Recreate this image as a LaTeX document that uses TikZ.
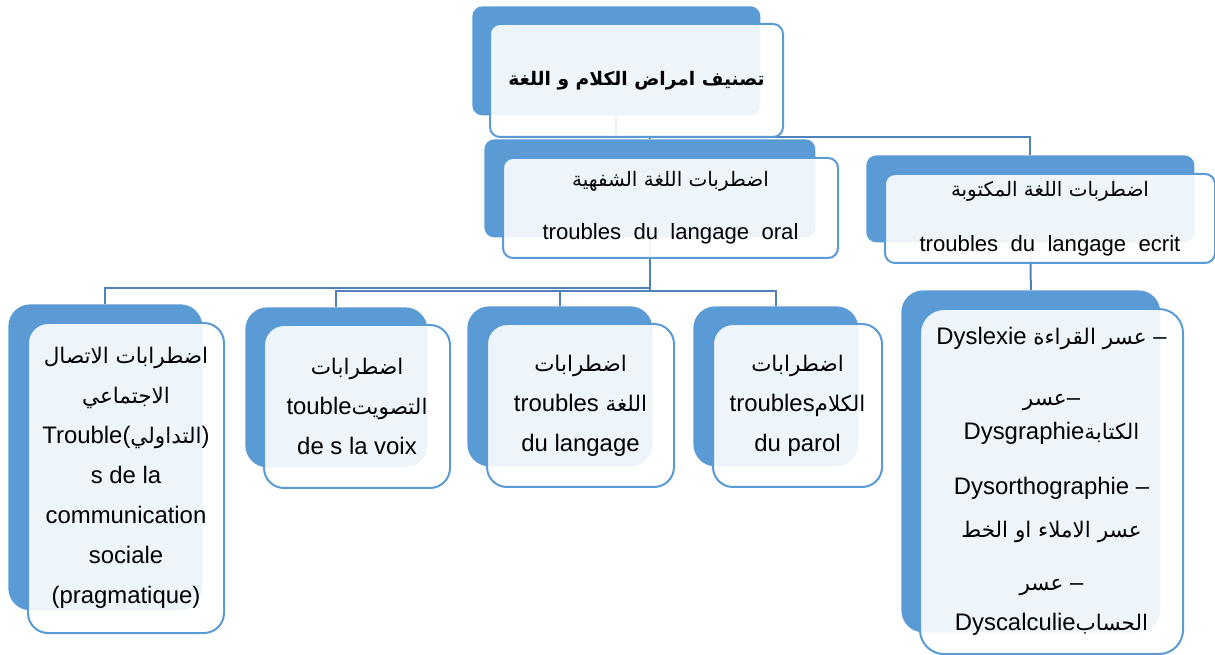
\documentclass[tikz,border=0pt]{standalone}
\usepackage{fontspec}
\setmainfont{Liberation Sans}
\newfontfamily\arabicfont[Script=Arabic,Scale=0.9]{DejaVu Sans}
\TeXXeTstate=1
\newcommand{\artxt}[1]{{\arabicfont\beginR #1\endR}}
\newlength{\px}
\setlength{\px}{0.02cm}
\definecolor{boxblue}{RGB}{91,155,213}
\definecolor{linkblue}{RGB}{79,129,189}

\tikzset{
  backbox/.style={fill=boxblue, rounded corners=10\px, anchor=north west, inner sep=0pt},
  frontbox/.style={draw=boxblue, line width=2\px, fill=white, fill opacity=0.9, text opacity=1,
    rounded corners=10\px, anchor=north west, inner sep=0pt, align=center,
    font=\fontsize{12.6}{20}\selectfont},
  leafback/.style={backbox, rounded corners=22\px},
  leafbox/.style={frontbox, rounded corners=20\px, font=\fontsize{13.6}{22.8}\selectfont},
  link/.style={draw=linkblue, line width=2\px},
}

\begin{document}
\begin{tikzpicture}[x=1\px, y=-1\px]
  \useasboundingbox (0,0) rectangle (1215,655);

  % back boxes
  \node[backbox, minimum width=288\px, minimum height=109\px] (rootback) at (472,6) {};
  \node[backbox, minimum width=331\px, minimum height=98\px] (oralback) at (484,139) {};
  \node[backbox, minimum width=328\px, minimum height=87\px] (writtenback) at (866,155) {};
  \node[leafback, minimum width=194\px, minimum height=306\px] (parolback1) at (8,304) {};
  \node[leafback, minimum width=182\px, minimum height=160\px] (parolback2) at (245,307) {};
  \node[leafback, minimum width=185\px, minimum height=160\px] (parolback3) at (467,306) {};
  \node[leafback, minimum width=165\px, minimum height=160\px] (parolback4) at (693,306) {};
  \node[leafback, minimum width=259\px, minimum height=342\px] (ecritback) at (901,290) {};

  % connectors
  \draw[link] (rootback.south) -- ++(0,21) -| (oralback.north);
  \draw[link] (rootback.south) -- ++(0,21) -| (writtenback.north);
  \draw[link] (oralback.south) -- ++(0,50) -| (parolback1.north);
  \foreach \k in {2,3,4}
    \draw[link] (oralback.south) -- ++(0,53) -| (parolback\k.north);
  \draw[link] (writtenback.south) -- (ecritback.north);

  % front boxes
  \node[frontbox, minimum width=293\px, minimum height=113\px, font=\fontsize{11.8}{20}\selectfont] (root) at (489,23)
    {\artxt{\bfseries تصنيف امراض الكلام و اللغة}};
  \node[frontbox, minimum width=335\px, minimum height=100\px] (oral) at (502,157)
    {\artxt{اضطربات اللغة الشفهية}\\[10pt] troubles\ \ du\ \ langage\ \ oral};
  \node[frontbox, minimum width=330\px, minimum height=89\px] (written) at (884,173)
    {\artxt{اضطربات اللغة المكتوبة}\\[11pt] troubles\ \ du\ \ langage\ \ ecrit};
  \node[leafbox, minimum width=196\px, minimum height=310\px] (parol1) at (27,322)
    {\artxt{اضطرابات الاتصال}\\ \artxt{الاجتماعي}\\ Trouble(\artxt{التداولي})\\
     s de la\\ communication\\ sociale\\ (pragmatique)};
  \node[leafbox, minimum width=186\px, minimum height=163\px] (parol2) at (263,324)
    {\artxt{اضطرابات}\\ touble\artxt{التصويت}\\ de s la voix};
  \node[leafbox, minimum width=187\px, minimum height=163\px] (parol3) at (486,323)
    {\artxt{اضطرابات}\\ troubles \artxt{اللغة}\\ du langage};
  \node[leafbox, minimum width=169\px, minimum height=163\px] (parol4) at (712,323)
    {\artxt{اضطرابات}\\ troubles\artxt{الكلام}\\ du parol};
  \node[leafbox, rounded corners=24\px, minimum width=263\px, minimum height=345\px] (ecrit) at (919,308)
    {Dyslexie \artxt{عسر القراءة} –\\[12pt]
     \artxt{عسر}–\\[-3.4pt]
     Dysgraphie\artxt{الكتابة}\\[8.5pt]
     Dysorthographie –\\[1.7pt]
     \artxt{عسر الاملاء او الخط}\\[7.4pt]
     \artxt{عسر} –\\
     Dyscalculie\artxt{الحساب}};
\end{tikzpicture}
\end{document}
